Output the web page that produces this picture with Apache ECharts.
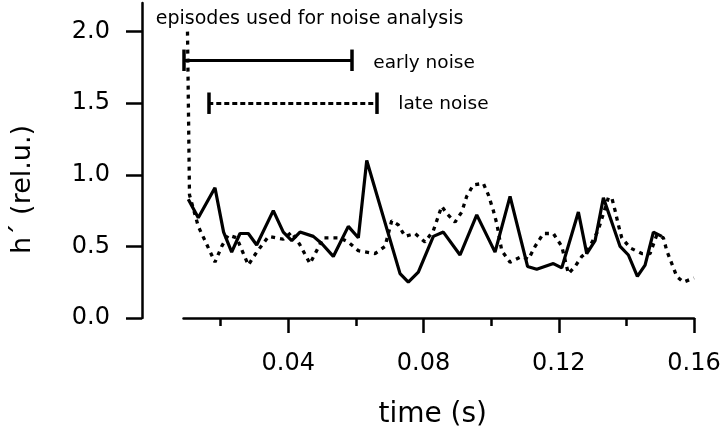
<!DOCTYPE html>
<html>
<head>
<meta charset="utf-8">
<script src="https://cdn.jsdelivr.net/npm/echarts@6/dist/echarts.min.js"></script>
<style>html,body{margin:0;padding:0;background:#fff}#c{width:720px;height:434px}</style>
</head>
<body>
<div id="c"></div>
<script>
// ---- data ----
const earlyT = [0.01041,0.01337,0.01831,0.02086,0.02325,0.02571,0.02817,0.03065,0.03556,0.03852,0.04101,0.04346,0.04740,0.04988,0.05331,0.05775,0.06071,0.06320,0.07305,0.07550,0.07846,0.08290,0.08586,0.09080,0.09574,0.10115,0.10559,0.11077,0.11349,0.11840,0.12089,0.12580,0.12828,0.13074,0.13320,0.13814,0.14059,0.14325,0.14553,0.14799,0.15047];
const earlyV = [0.83,0.70,0.91,0.60,0.46,0.59,0.59,0.51,0.75,0.60,0.54,0.60,0.57,0.52,0.43,0.64,0.56,1.10,0.31,0.25,0.32,0.57,0.60,0.44,0.72,0.46,0.85,0.36,0.34,0.38,0.35,0.74,0.45,0.54,0.84,0.50,0.44,0.29,0.37,0.60,0.57];
const lateT = [0.01018,0.01077,0.01337,0.01536,0.01831,0.02030,0.02225,0.02473,0.02817,0.03065,0.03414,0.03852,0.04101,0.04346,0.04642,0.05036,0.05530,0.05775,0.06071,0.06565,0.06861,0.07059,0.07254,0.07453,0.07749,0.08044,0.08290,0.08538,0.08686,0.08932,0.09130,0.09278,0.09473,0.09769,0.09917,0.10065,0.10166,0.10314,0.10559,0.10905,0.11101,0.11299,0.11544,0.11840,0.12089,0.12284,0.12482,0.12680,0.12828,0.13163,0.13467,0.13568,0.13666,0.13763,0.13864,0.14109,0.14456,0.14701,0.14899,0.15095,0.15195,0.15343,0.15491,0.15686,0.16000];
const lateV = [2.00,0.86,0.64,0.54,0.39,0.50,0.58,0.56,0.37,0.46,0.57,0.55,0.60,0.51,0.38,0.56,0.56,0.53,0.47,0.45,0.50,0.68,0.65,0.57,0.59,0.53,0.61,0.78,0.73,0.67,0.74,0.85,0.93,0.94,0.86,0.75,0.66,0.47,0.39,0.43,0.41,0.50,0.59,0.59,0.50,0.31,0.36,0.43,0.46,0.61,0.84,0.84,0.75,0.65,0.56,0.49,0.45,0.45,0.58,0.56,0.47,0.38,0.29,0.25,0.28];

// episode windows used for noise analysis (time range, level)
const earlyWindow = [0.00905, 0.05876];
const lateWindow  = [0.01633, 0.06615];
const earlyLevel = 1.80, lateLevel = 1.50;

const xMajorTicks = [0.04, 0.08, 0.12, 0.16];
const xMinorTicks = [0.02, 0.06, 0.10, 0.14];
const yTicks = [0, 0.5, 1.0, 1.5, 2.0];

const title = 'episodes used for noise analysis';
const earlyName = 'early noise';
const lateName = 'late noise';
const xName = 'time (s)';
const yName = 'h\u00b4 (rel.u.)';

// ---- chart ----
const FONT = 'DejaVu Sans';
const chart = echarts.init(document.getElementById('c'), null, {renderer: 'canvas'});
const capH = 0.075;
function bar(win, lvl, dashed) {
  const main = {type: dashed ? [5, 3] : 'solid', width: 3, color: '#000'};
  const cap = {type: 'solid', width: 3.5, color: '#000'};
  return [
    [{coord: [win[0], lvl], lineStyle: main}, {coord: [win[1], lvl]}],
    [{coord: [win[0], lvl - capH], lineStyle: cap}, {coord: [win[0], lvl + capH]}],
    [{coord: [win[1], lvl - capH], lineStyle: cap}, {coord: [win[1], lvl + capH]}]
  ];
}
const option = {
  animation: false,
  backgroundColor: '#fff',
  grid: {left: 183.5, right: 26, top: 3, bottom: 116, containLabel: false, outerBoundsMode: 'none'},
  xAxis: [{
    type: 'value', min: 0.009, max: 0.16, position: 'bottom',
    axisLine: {show: true, onZero: false, lineStyle: {color: '#000', width: 2.5}},
    axisTick: {show: true, customValues: xMajorTicks, length: 15, lineStyle: {color: '#000', width: 2.5}},
    axisLabel: {show: true, customValues: xMajorTicks, formatter: v => v.toFixed(2), color: '#000', fontFamily: FONT, fontSize: 24, margin: 34},
    splitLine: {show: false},
    name: xName, nameLocation: 'middle', nameGap: 83,
    nameTextStyle: {color: '#000', fontFamily: FONT, fontSize: 28, padding: [0, 12, 0, 0]}
  }, {
    type: 'value', min: 0.009, max: 0.16, position: 'bottom', offset: 0,
    axisLine: {show: false, onZero: false},
    axisTick: {show: true, customValues: xMinorTicks, length: 8, lineStyle: {color: '#000', width: 2.5}},
    axisLabel: {show: false},
    splitLine: {show: false}
  }],
  yAxis: {
    type: 'value', min: 0, max: 2.2, position: 'left', offset: 41.5,
    axisLine: {show: true, lineStyle: {color: '#000', width: 2.5}},
    axisTick: {show: true, customValues: yTicks, length: 16, lineStyle: {color: '#000', width: 2.5}},
    axisLabel: {show: true, customValues: yTicks, formatter: v => v.toFixed(1), color: '#000', fontFamily: FONT, fontSize: 24, margin: 32},
    splitLine: {show: false},
    name: yName, nameLocation: 'middle', nameGap: 106,
    nameTextStyle: {color: '#000', fontFamily: FONT, fontSize: 27, padding: [0, 58, 0, 0]}
  },
  series: [
    {
      name: earlyName, type: 'line', xAxisIndex: 0, showSymbol: false, symbol: 'none',
      data: earlyT.map((t, i) => [t, earlyV[i]]),
      lineStyle: {color: '#000', width: 3.2, type: 'solid'}
    },
    {
      name: lateName, type: 'line', xAxisIndex: 0, showSymbol: false, symbol: 'none',
      data: lateT.map((t, i) => [t, lateV[i]]),
      lineStyle: {color: '#000', width: 3.3, type: [4, 5], cap: 'butt'}
    },
    {
      type: 'line', data: [], xAxisIndex: 0,
      markLine: {
        silent: true, symbol: 'none', animation: false, label: {show: false},
        data: bar(earlyWindow, earlyLevel, false).concat(bar(lateWindow, lateLevel, true))
      }
    },
    {
      type: 'scatter', xAxisIndex: 0, symbolSize: 0, clip: false, silent: true,
      itemStyle: {opacity: 1, color: '#000'},
      data: [
        {name: title, value: [0.00080, 2.09], label: {fontSize: 19}},
        {name: earlyName, value: [0.06515, earlyLevel - 0.02]},
        {name: lateName, value: [0.07254, lateLevel - 0.01]}
      ],
      label: {show: true, position: 'right', distance: 0, formatter: '{b}', color: '#000', opacity: 1, fontFamily: FONT, fontSize: 18.5}
    }
  ]
};
chart.setOption(option);
</script>
</body>
</html>
